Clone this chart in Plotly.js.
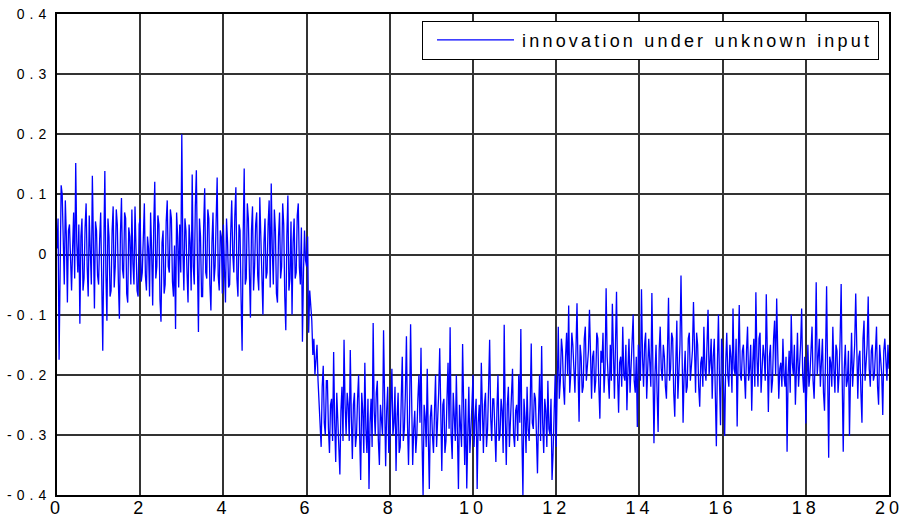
<!DOCTYPE html>
<html>
<head>
<meta charset="utf-8">
<script src="https://cdn.plot.ly/plotly-3.0.1.min.js"></script>
<style>
  html, body { margin: 0; padding: 0; background: #fff; }
  #plot { width: 904px; height: 523px; }
  .ytick text { letter-spacing: 5px; }
  .xtick text { letter-spacing: 4px; }
  .legendtext { letter-spacing: 3.2px; }
</style>
</head>
<body>
<div id="plot"></div>
<script>
// Sampling interval of the innovation sequence (seconds)
const sampleStep = 0.025;

// Innovation, t = 0 .. 5.975 (unknown input not yet active)
const innovationBefore = [
  0.010, 0.060, -0.175, -0.020, 0.115, 0.100, 0.020, -0.050, 0.090, 0.030, -0.080, 0.040, 0.050, -0.030, -0.060, 0.010, 0.070, -0.040, 0.152, 0.020,
  -0.030, 0.050, -0.115, 0.030, 0.060, -0.060, -0.040, 0.045, 0.085, -0.020, -0.070, 0.065, 0.020, -0.050, 0.131, -0.010, -0.090, 0.055, 0.040, -0.035,
  -0.050, 0.025, 0.070, -0.040, -0.160, 0.010, 0.139, -0.030, -0.110, 0.060, 0.030, -0.070, -0.060, 0.040, 0.080, -0.055, -0.020, 0.075, 0.050, -0.045,
  -0.107, 0.035, 0.094, -0.025, -0.040, 0.070, 0.060, -0.065, -0.080, 0.045, 0.030, -0.050, 0.075, -0.015, -0.050, 0.080, 0.020, -0.060, -0.070, 0.050,
  0.060, -0.045, -0.030, 0.040, 0.085, -0.035, -0.060, 0.030, 0.010, -0.070, 0.070, 0.005, -0.085, 0.045, 0.121, -0.040, -0.020, 0.065, 0.050, -0.075,
  -0.112, 0.020, 0.040, -0.065, -0.050, 0.055, 0.090, -0.020, -0.030, 0.075, 0.060, -0.045, -0.070, 0.015, -0.124, 0.070, 0.030, -0.055, 0.050, -0.030,
  0.200, 0.010, -0.060, 0.060, 0.040, -0.030, -0.080, 0.050, 0.020, -0.060, 0.133, -0.020, -0.050, 0.080, 0.140, -0.010, -0.129, 0.060, 0.030, -0.070,
  -0.070, 0.045, 0.110, -0.030, -0.040, 0.075, 0.060, -0.050, -0.093, 0.020, 0.070, -0.045, -0.020, 0.055, 0.128, -0.035, -0.060, 0.040, 0.030, -0.065,
  0.050, -0.025, -0.080, 0.060, 0.020, -0.055, -0.050, 0.035, 0.090, 0.000, -0.030, 0.065, 0.112, -0.040, -0.070, 0.050, 0.040, -0.075, -0.160, 0.030,
  0.143, -0.050, -0.040, 0.085, 0.060, -0.030, -0.105, 0.040, 0.080, -0.060, -0.020, 0.050, 0.070, -0.035, -0.060, 0.095, 0.030, -0.045, -0.100, 0.020,
  0.060, -0.040, -0.030, 0.050, 0.090, -0.055, 0.118, 0.010, -0.050, 0.075, 0.040, -0.065, -0.080, 0.030, 0.070, -0.040, -0.020, 0.085, 0.050, -0.070,
  -0.126, 0.030, 0.098, -0.060, -0.040, 0.055, -0.100, 0.020, 0.060, -0.040, -0.030, 0.065, 0.085, -0.020, -0.050, 0.045, -0.145, -0.030, 0.040, -0.010
];

// Innovation, t = 6 .. 11.975 (first input step)
const innovationStep1 = [
  -0.020, 0.030, -0.130, -0.060, -0.080, -0.110, -0.167, -0.140, -0.200, -0.180, -0.150, -0.210, -0.240, -0.270, -0.320, -0.220, -0.185, -0.280, -0.300, -0.210,
  -0.210, -0.290, -0.330, -0.250, -0.240, -0.310, -0.162, -0.280, -0.345, -0.230, -0.270, -0.320, -0.366, -0.260, -0.220, -0.310, -0.142, -0.250, -0.300, -0.230,
  -0.250, -0.310, -0.159, -0.270, -0.340, -0.250, -0.230, -0.320, -0.300, -0.240, -0.200, -0.300, -0.375, -0.230, -0.260, -0.330, -0.180, -0.290, -0.330, -0.240,
  -0.390, -0.280, -0.240, -0.320, -0.114, -0.260, -0.300, -0.230, -0.210, -0.310, -0.350, -0.250, -0.270, -0.300, -0.126, -0.280, -0.352, -0.260, -0.220, -0.330,
  -0.310, -0.250, -0.190, -0.300, -0.280, -0.220, -0.360, -0.270, -0.230, -0.330, -0.320, -0.240, -0.170, -0.310, -0.290, -0.230, -0.136, -0.280, -0.350, -0.260,
  -0.116, -0.240, -0.350, -0.290, -0.260, -0.330, -0.300, -0.240, -0.200, -0.280, -0.155, -0.310, -0.400, -0.250, -0.270, -0.320, -0.190, -0.300, -0.390, -0.270,
  -0.250, -0.300, -0.330, -0.260, -0.200, -0.320, -0.280, -0.230, -0.156, -0.280, -0.360, -0.250, -0.240, -0.330, -0.310, -0.240, -0.180, -0.290, -0.121, -0.300,
  -0.340, -0.230, -0.260, -0.310, -0.200, -0.290, -0.390, -0.250, -0.280, -0.320, -0.149, -0.270, -0.350, -0.240, -0.389, -0.300, -0.220, -0.330, -0.300, -0.250,
  -0.200, -0.320, -0.270, -0.240, -0.390, -0.280, -0.250, -0.310, -0.180, -0.260, -0.330, -0.250, -0.230, -0.320, -0.290, -0.220, -0.142, -0.270, -0.310, -0.240,
  -0.240, -0.290, -0.345, -0.260, -0.200, -0.310, -0.300, -0.240, -0.260, -0.330, -0.117, -0.270, -0.350, -0.250, -0.220, -0.320, -0.280, -0.230, -0.190, -0.300,
  -0.320, -0.260, -0.250, -0.310, -0.200, -0.280, -0.124, -0.300, -0.400, -0.240, -0.270, -0.330, -0.220, -0.290, -0.310, -0.250, -0.148, -0.280, -0.290, -0.230,
  -0.240, -0.300, -0.364, -0.270, -0.200, -0.310, -0.152, -0.280, -0.330, -0.240, -0.260, -0.320, -0.210, -0.290, -0.300, -0.240, -0.375, -0.330, -0.250, -0.200
];

// Innovation, t = 12 .. 20 (second input level)
const innovationStep2 = [
  -0.320, -0.200, -0.120, -0.240, -0.210, -0.140, -0.160, -0.220, -0.250, -0.170, -0.130, -0.200, -0.085, -0.230, -0.200, -0.130, -0.150, -0.190, -0.230, -0.160,
  -0.081, -0.190, -0.278, -0.150, -0.170, -0.230, -0.220, -0.140, -0.120, -0.210, -0.190, -0.160, -0.092, -0.200, -0.240, -0.170, -0.160, -0.230, -0.210, -0.130,
  -0.140, -0.220, -0.273, -0.160, -0.180, -0.130, -0.230, -0.190, -0.056, -0.170, -0.200, -0.240, -0.150, -0.210, -0.082, -0.180, -0.240, -0.150, -0.062, -0.200,
  -0.263, -0.180, -0.170, -0.220, -0.120, -0.200, -0.210, -0.150, -0.259, -0.190, -0.140, -0.230, -0.190, -0.140, -0.100, -0.210, -0.230, -0.170, -0.287, -0.150,
  -0.160, -0.210, -0.058, -0.170, -0.220, -0.150, -0.130, -0.240, -0.200, -0.140, -0.180, -0.220, -0.064, -0.190, -0.314, -0.200, -0.150, -0.230, -0.295, -0.160,
  -0.120, -0.190, -0.210, -0.150, -0.170, -0.220, -0.240, -0.160, -0.072, -0.210, -0.190, -0.130, -0.140, -0.230, -0.270, -0.180, -0.110, -0.240, -0.200, -0.150,
  -0.035, -0.170, -0.280, -0.200, -0.160, -0.230, -0.220, -0.140, -0.130, -0.210, -0.190, -0.160, -0.079, -0.190, -0.230, -0.130, -0.150, -0.220, -0.253, -0.180,
  -0.170, -0.220, -0.120, -0.190, -0.210, -0.150, -0.092, -0.200, -0.180, -0.140, -0.240, -0.170, -0.140, -0.230, -0.319, -0.180, -0.100, -0.210, -0.284, -0.140,
  -0.160, -0.220, -0.302, -0.180, -0.130, -0.200, -0.220, -0.150, -0.170, -0.230, -0.090, -0.190, -0.200, -0.140, -0.286, -0.170, -0.084, -0.200, -0.210, -0.160,
  -0.150, -0.200, -0.240, -0.160, -0.120, -0.210, -0.190, -0.150, -0.260, -0.180, -0.140, -0.220, -0.063, -0.170, -0.220, -0.140, -0.130, -0.230, -0.200, -0.150,
  -0.170, -0.210, -0.066, -0.180, -0.262, -0.170, -0.150, -0.230, -0.210, -0.140, -0.110, -0.200, -0.073, -0.160, -0.240, -0.190, -0.180, -0.220, -0.140, -0.200,
  -0.220, -0.170, -0.328, -0.200, -0.160, -0.230, -0.100, -0.180, -0.200, -0.150, -0.250, -0.190, -0.130, -0.220, -0.190, -0.150, -0.090, -0.200, -0.230, -0.170,
  -0.281, -0.190, -0.150, -0.220, -0.200, -0.160, -0.120, -0.210, -0.240, -0.170, -0.046, -0.200, -0.170, -0.140, -0.220, -0.180, -0.140, -0.230, -0.260, -0.170,
  -0.053, -0.200, -0.338, -0.170, -0.180, -0.220, -0.120, -0.190, -0.230, -0.150, -0.160, -0.230, -0.200, -0.140, -0.049, -0.210, -0.328, -0.190, -0.150, -0.220,
  -0.210, -0.160, -0.302, -0.200, -0.130, -0.220, -0.190, -0.150, -0.065, -0.190, -0.240, -0.170, -0.160, -0.230, -0.280, -0.140, -0.110, -0.210, -0.180, -0.150,
  -0.070, -0.190, -0.220, -0.160, -0.150, -0.210, -0.200, -0.170, -0.120, -0.220, -0.250, -0.150, -0.170, -0.200, -0.267, -0.160, -0.140, -0.180, -0.210, -0.150,
  -0.190
];

const xTickVals = [0, 2, 4, 6, 8, 10, 12, 14, 16, 18, 20];
const xTickText = ['0', '2', '4', '6', '8', '10', '12', '14', '16', '18', '20'];
const yTickVals = [-0.4, -0.3, -0.2, -0.1, 0, 0.1, 0.2, 0.3, 0.4];
const yTickText = ['-0.4', '-0.3', '-0.2', '-0.1', '0', '0.1', '0.2', '0.3', '0.4'];
const seriesName = 'innovation under unknown input';

const innovation = innovationBefore.concat(innovationStep1, innovationStep2);
const time = innovation.map((_, i) => +(i * sampleStep).toFixed(4));

const fontFamily = '"Liberation Sans", Arial, Helvetica, sans-serif';

const trace = {
  type: 'scatter',
  mode: 'lines',
  x: time,
  y: innovation,
  name: seriesName,
  showlegend: true,
  line: { color: '#0000ff', width: 1.3 }
};

const axisCommon = {
  showline: true,
  mirror: true,
  linecolor: '#000',
  linewidth: 2,
  showgrid: true,
  gridcolor: '#333',
  gridwidth: 2,
  zeroline: false,
  ticks: '',
  tickmode: 'array',
  fixedrange: true
};

const layout = {
  width: 904,
  height: 523,
  margin: { l: 57, r: 15, t: 14, b: 28, pad: 0 },
  paper_bgcolor: '#fff',
  plot_bgcolor: '#fff',
  font: { family: fontFamily, color: '#000' },
  showlegend: true,
  legend: {
    x: 0.988, xanchor: 'right',
    y: 0.9863, yanchor: 'top',
    bgcolor: '#fff',
    bordercolor: '#000',
    borderwidth: 1,
    itemwidth: 89,
    font: { family: fontFamily, size: 18, color: '#000' }
  },
  xaxis: Object.assign({}, axisCommon, {
    range: [0, 20],
    tickvals: xTickVals,
    ticktext: xTickText,
    tickfont: { family: fontFamily, size: 18, color: '#000' },
    ticklabelstandoff: -5
  }),
  yaxis: Object.assign({}, axisCommon, {
    range: [-0.4, 0.4],
    tickvals: yTickVals,
    ticktext: yTickText,
    tickfont: { family: fontFamily, size: 14, color: '#000' },
    ticklabelstandoff: 1
  })
};

Plotly.newPlot('plot', [trace], layout, { staticPlot: true, displayModeBar: false })
  .then(function (gd) {
    // Longer line sample in the legend entry
    gd.querySelectorAll('.legendlines path').forEach(function (p) {
      p.setAttribute('d', 'M14,0h77');
    });
  });
</script>
</body>
</html>
